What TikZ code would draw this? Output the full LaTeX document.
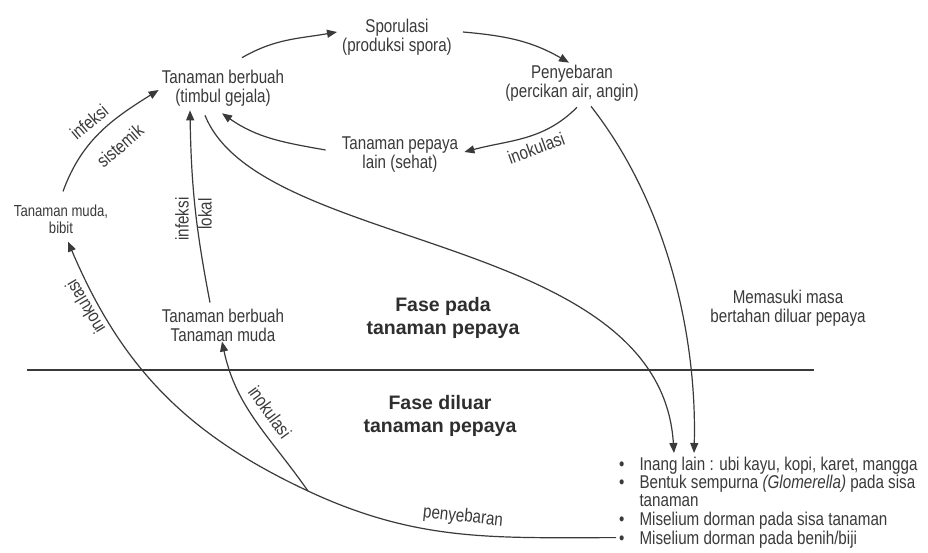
\documentclass[tikz,border=0pt]{standalone}
\usepackage{fontspec}
\setmainfont{Liberation Sans}[FakeStretch=0.82]
\newfontfamily\fasefont{Liberation Sans}
\usepackage{tikz}
\usetikzlibrary{arrows.meta,calc}
\definecolor{ink}{HTML}{3A3A3A}

\begin{document}
\begin{tikzpicture}[x=1pt,y=1pt,
	txt/.style={align=center,inner sep=2pt,text=ink,font=\fontsize{18.5}{19}\selectfont},
	lbl/.style={inner sep=0pt,text=ink,font=\fontsize{18.5}{19}\selectfont},
	fase/.style={align=center,inner sep=2pt,text=ink!80!black,font=\fasefont\bfseries\fontsize{19.5}{23}\selectfont},
	arr/.style={draw=ink,line width=1.2pt,-{Triangle[length=10pt,width=8pt]}}]
	\useasboundingbox[fill=white] (0,0) rectangle (928,552);

	\node[txt] (spo)  at (397,515) {Sporulasi\\(produksi spora)};
	\node[txt] (tb)   at (223,464) {Tanaman berbuah\\(timbul gejala)};
	\node[txt] (pen)  at (572,469) {Penyebaran\\(percikan air, angin)};
	\node[txt] (lain) at (400,397) {Tanaman pepaya\\lain (sehat)};
	\node[txt,font=\fontsize{16}{17}\selectfont] (muda) at (61,333) {Tanaman muda,\\bibit};
	\node[txt] (tbm)  at (223,227) {Tanaman berbuah\\Tanaman muda};
	\node[txt] (mem)  at (788,244) {Memasuki masa\\bertahan diluar pepaya};
	\node[fase] (fase1) at (443,234) {Fase pada\\tanaman pepaya};
	\node[fase] (fase2) at (440,136) {Fase diluar\\tanaman pepaya};
	\node[txt,align=left,anchor=north west,font=\fontsize{18.5}{18}\selectfont] (list) at (617,97.5) {%
		\begin{tabular}{@{}l@{\hspace{15pt}}l@{}}
		\textbullet & Inang lain : ubi kayu, kopi, karet, mangga\\
		\textbullet & Bentuk sempurna \textit{(Glomerella)} pada sisa\\
		            & tanaman\\
		\textbullet & Miselium dorman pada sisa tanaman\\
		\textbullet & Miselium dorman pada benih/biji
		\end{tabular}};
	\coordinate (j) at (308,61);

	% garis pemisah fase
	\draw[draw=ink,line width=2.2pt] (27,182) -- (814,182);

	% siklus pada tanaman pepaya
	\draw[arr] ($(tb.north)+(19,10)$) to[out=30,in=190] ($(spo.west)+(-3,5)$);
	\draw[arr] ($(spo.east)+(9,5)$) to[out=-5,in=150] ($(pen.north)+(-3,0)$);
	\draw[arr] ($(pen.south)+(5,-4)$) to[out=-135,in=15] ($(lain.east)+(4,3)$);
	\draw[arr] ($(lain.west)+(-14,5)$) to[out=170,in=-35] ($(tb.south)+(-1,-5)$);
	\draw[arr] ($(muda.north)+(2,11)$) to[out=70,in=-148] ($(tb.west)+(-1,-2)$);
	\draw[arr] ($(tbm.north)+(-13,4)$) to[bend left=5] ($(tb.south)+(-33,-2)$);

	% keluar dari tanaman pepaya
	\draw[arr] ($(tb.south)+(-18,-7)$) .. controls +(55,-137) and +(-14,221) .. ($(list.north west)+(57,1.5)$);
	\draw[arr] ($(pen.south)+(19,-3)$) .. controls +(79,-101) and +(3,111) .. ($(list.north west)+(77,1.5)$);

	% kembali ke tanaman pepaya
	\draw[arr] ($(list.south west)+(-1,14.5)$) to[out=180,in=-25] (j) to[out=155,in=-67] ($(muda.south)+(7,-6)$);
	\draw[arr] (j) to[out=125,in=-78] ($(tbm.south)+(-1,2)$);

	% label panah
	\node[lbl,rotate=20]  (inok1) at (536,404) {inokulasi};
	\node[lbl,rotate=40]  (inf1)  at (89,430)  {infeksi};
	\node[lbl,rotate=41]  (sis)   at (120,406) {sistemik};
	\node[lbl,rotate=90]  (inf2)  at (182,333) {infeksi};
	\node[lbl,rotate=90]  (lok)   at (205,338) {lokal};
	\node[lbl,rotate=121] (inok2) at (85,245)  {inokulasi};
	\node[lbl,rotate=-54] (inok3) at (270,140) {inokulasi};
	\node[lbl,rotate=-6]  (peny)  at (463,35)  {penyebaran};
\end{tikzpicture}
\end{document}
